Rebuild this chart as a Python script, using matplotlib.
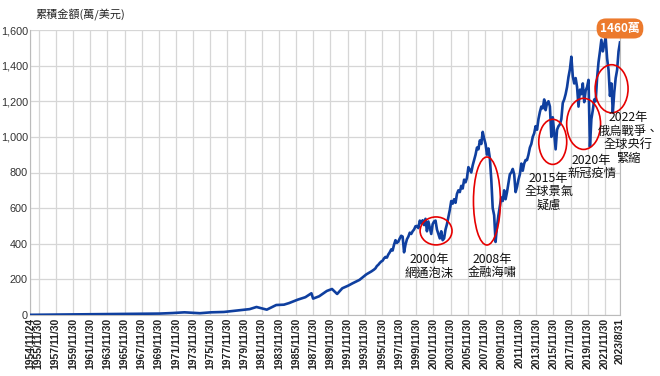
import matplotlib
matplotlib.use("Agg")
import matplotlib.pyplot as plt
from matplotlib.patches import Ellipse
import numpy as np

plt.rcParams['font.family'] = ['Noto Sans CJK TC', 'DejaVu Sans']

# early part: decimal year, accumulated amount (萬美元)
early_years = [1954.9, 1956.0, 1958.0, 1960.0, 1962.0, 1964.0, 1966.0, 1968.0, 1970.0, 1971.5,
               1972.9, 1974.7, 1976.0, 1977.5, 1979.0, 1980.5, 1981.3, 1982.5, 1983.6, 1984.5,
               1985.1, 1986.1, 1987.0, 1987.7, 1987.9, 1988.6, 1989.5, 1990.1, 1990.7, 1991.3,
               1992.0, 1992.5, 1993.3, 1994.1, 1994.7]
early_values = [1, 1.5, 2, 3, 4, 5, 6, 7, 8, 11,
                15, 10, 15, 17, 25, 33, 45, 30, 56, 58,
                67, 86, 100, 122, 92, 105, 135, 146, 118, 150,
                165, 178, 197, 228, 245]

# 1995 onward, every two months (6 per year)
late_start = 1995.0
late_values = [255, 262, 275, 282, 292, 300,        # 1995
               305, 318, 326, 322, 340, 352,        # 1996
               368, 362, 395, 420, 405, 412,        # 1997
               430, 445, 440, 352, 395, 425,        # 1998
               440, 462, 455, 470, 480, 498,        # 1999
               500, 488, 530, 515, 532, 505,        # 2000
               540, 470, 525, 490, 455, 510,        # 2001
               525, 530, 480, 455, 430, 470,        # 2002
               420, 430, 480, 510, 550, 590,        # 2003
               640, 625, 650, 630, 680, 700,        # 2004
               690, 725, 710, 760, 745, 770,        # 2005
               830, 815, 800, 840, 870, 900,        # 2006
               940, 930, 980, 960, 1028, 990,       # 2007
               960, 900, 935, 880, 760, 600,        # 2008
               560, 410, 500, 560, 610, 660,        # 2009
               640, 700, 650, 690, 740, 790,        # 2010
               800, 820, 790, 690, 720, 760,        # 2011
               790, 850, 810, 850, 870, 870,        # 2012
               900, 940, 960, 1000, 1020, 1060,     # 2013
               1040, 1100, 1140, 1170, 1160, 1210,  # 2014
               1150, 1190, 1200, 1170, 1000, 1110,  # 2015
               1020, 930, 1040, 1060, 1070, 1100,   # 2016
               1190, 1210, 1240, 1280, 1337, 1380,  # 2017
               1450, 1340, 1300, 1330, 1280, 1170,  # 2018
               1265, 1240, 1300, 1195, 1260, 1280,  # 2019
               1320, 944, 1100, 1150, 1210, 1200,   # 2020
               1330, 1420, 1480, 1545, 1480, 1520,  # 2021
               1556, 1440, 1376, 1230, 1300, 1135,  # 2022
               1250, 1330, 1376, 1480, 1530]        # 2023

tick_pos = [1954.9] + [1955.915 + 2 * i for i in range(34)] + [2023.665]
tick_labels = ['1954/11/24'] + ['%d/11/30' % (1955 + 2 * i) for i in range(34)] + ['2023/8/31']

# red circles (x, y, width, height) and notes (x, y, text)
circles = [(2002.23, 472, 3.72, 157), (2008.16, 640, 3.14, 494), (2015.83, 972, 3.26, 253),
           (2019.43, 1073, 3.95, 287), (2022.69, 1270, 3.84, 270)]
notes = [(2001.4, 275, '2000年\n網通泡沫'), (2008.74, 275, '2008年\n金融海嘯'),
         (2015.37, 691, '2015年\n全球景氣\n疑慮'), (2020.37, 831, '2020年\n新冠疫情'),
         (2024.6, 994, '2022年\n俄烏戰爭、\n全球央行\n緊縮')]

late_years = late_start + np.arange(len(late_values)) / 6
years = early_years + list(late_years)
values = early_values + late_values

fig = plt.figure(figsize=(6.6, 3.76), dpi=100)
ax = fig.add_axes([30 / 660, 1 - 315 / 376, 590 / 660, 285 / 376])

ax.plot(years, values, color='#0f3f9f', lw=1.9, zorder=3)

ax.set_xlim(1954.9, 2023.67)
ax.set_ylim(0, 1600)
ax.set_xticks(tick_pos)
ax.set_xticklabels(tick_labels, rotation=90, fontsize=7.5, fontweight='bold',
                   family=['Liberation Sans', 'DejaVu Sans'], color='#222222')
ax.set_yticks(range(0, 1601, 200))
ax.set_yticklabels(['{:,}'.format(v) for v in range(0, 1601, 200)], fontsize=7.8,
                   family=['Liberation Sans', 'DejaVu Sans'], color='#333333')
ax.tick_params(axis='y', length=0, pad=1.5)
ax.tick_params(axis='x', length=0, pad=2)
ax.grid(True, color='#d6d6d6', lw=0.9)
ax.set_axisbelow(True)
for side in ['left', 'bottom', 'right']:
    ax.spines[side].set_color('#bbbbbb')
ax.spines['top'].set_visible(False)

for cx, cy, w, h in circles:
    ax.add_patch(Ellipse((cx, cy), w, h, fill=False, ec='#e60000', lw=1.2, zorder=4, clip_on=False))
for tx, ty, s in notes:
    ax.text(tx, ty, s, ha='center', va='center', fontsize=8.8, linespacing=1.05,
            color='#111111', zorder=5, clip_on=False)

ax.annotate('1460萬', xy=(years[-1], values[-1]), xytext=(0, 14), textcoords='offset pixels',
            ha='center', va='center', color='white', fontsize=8.5, fontweight='bold',
            bbox=dict(boxstyle='round,pad=0.3,rounding_size=0.8', fc='#ec7a2d', ec='none'),
            annotation_clip=False, zorder=6)

fig.text(35 / 660, 1 - 15 / 376, '累積金額(萬/美元)', fontsize=8, va='center', ha='left', color='#222222')

fig.savefig('out.png', dpi=100)
